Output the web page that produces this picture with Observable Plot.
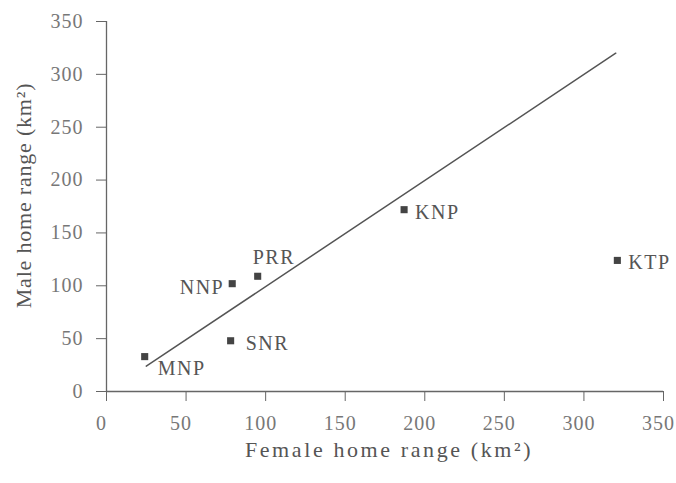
<!DOCTYPE html>
<html>
<head>
<meta charset="utf-8">
<script src="https://cdn.jsdelivr.net/npm/d3@7"></script>
<script src="https://cdn.jsdelivr.net/npm/@observablehq/plot@0.6"></script>
<style>
  html, body { margin: 0; padding: 0; background: #fff; }
  svg { display: block; }
</style>
</head>
<body>
<div id="chart"></div>
<script>
const sites  = ["MNP", "SNR", "NNP", "PRR", "KNP", "KTP"];
const female = [24, 78, 79, 95, 187, 321];
const male   = [33, 48, 102, 109, 172, 124];
const fitX   = [25, 320];
const fitY   = [24, 320];
const ticks  = [0, 50, 100, 150, 200, 250, 300, 350];
const xTitle = "Female home range (km²)";
const yTitle = "Male home range (km²)";

const points = sites.map((s, i) => ({site: s, x: female[i], y: male[i]}));
const fit = fitX.map((x, i) => ({x, y: fitY[i]}));

const labelStyle = {
  MNP: {dx: 13, dy: 12, anchor: "start"},
  SNR: {dx: 15, dy: 3, anchor: "start"},
  NNP: {dx: -8, dy: 4, anchor: "end"},
  PRR: {dx: -5, dy: -19, anchor: "start"},
  KNP: {dx: 11, dy: 3, anchor: "start"},
  KTP: {dx: 11, dy: 2, anchor: "start"}
};

const grey = "#666";
const font = "'Liberation Serif', 'DejaVu Serif', serif";

const labelMarks = sites.map(s => Plot.text(points.filter(d => d.site === s), {
  x: "x", y: "y", text: "site",
  dx: labelStyle[s].dx, dy: labelStyle[s].dy,
  textAnchor: labelStyle[s].anchor,
  fill: "#555", fontSize: 20, fontFamily: font,
  className: "ptlabel"
}));

const chart = Plot.plot({
  width: 676,
  height: 483,
  marginLeft: 106,
  marginRight: 13,
  marginTop: 21,
  marginBottom: 92,
  style: {fontFamily: font, background: "#fff", overflow: "visible"},
  x: {domain: [0, 350]},
  y: {domain: [0, 350]},
  marks: [
    Plot.axisX({ticks, tickSize: 10, tickPadding: 14, stroke: grey, fill: "#777",
      fontSize: 20, label: null, className: "xax"}),
    Plot.axisY({ticks, tickSize: 10, tickPadding: 13, stroke: grey, fill: "#777",
      fontSize: 20, label: null, className: "yax"}),
    Plot.ruleY([0], {stroke: grey, strokeWidth: 1.3}),
    Plot.ruleX([0], {stroke: grey, strokeWidth: 1.3}),
    Plot.line(fit, {x: "x", y: "y", stroke: "#555", strokeWidth: 1.5}),
    Plot.dot(points, {x: "x", y: "y", symbol: "square", r: 4, fill: "#444", stroke: "none"}),
    ...labelMarks,
    Plot.text([xTitle], {frameAnchor: "bottom", lineAnchor: "middle", textAnchor: "middle", dx: 4, dy: 58,
      fontSize: 22, fill: "#555", fontFamily: font, className: "xtitle"}),
    Plot.text([yTitle], {frameAnchor: "left", lineAnchor: "middle", textAnchor: "middle", rotate: -90, dx: -83, dy: -11,
      fontSize: 22, fill: "#555", fontFamily: font, className: "ytitle"})
  ]
});

d3.select(chart).selectAll(".xax text, .yax text").style("letter-spacing", "1px");
d3.select(chart).selectAll(".xax text").attr("dx", -5);
d3.select(chart).selectAll(".ptlabel text").style("letter-spacing", "1.5px");
d3.select(chart).selectAll(".xtitle text").style("letter-spacing", "2.6px");
d3.select(chart).selectAll(".ytitle text").style("letter-spacing", "0.8px");

document.getElementById("chart").appendChild(chart);
</script>
</body>
</html>
